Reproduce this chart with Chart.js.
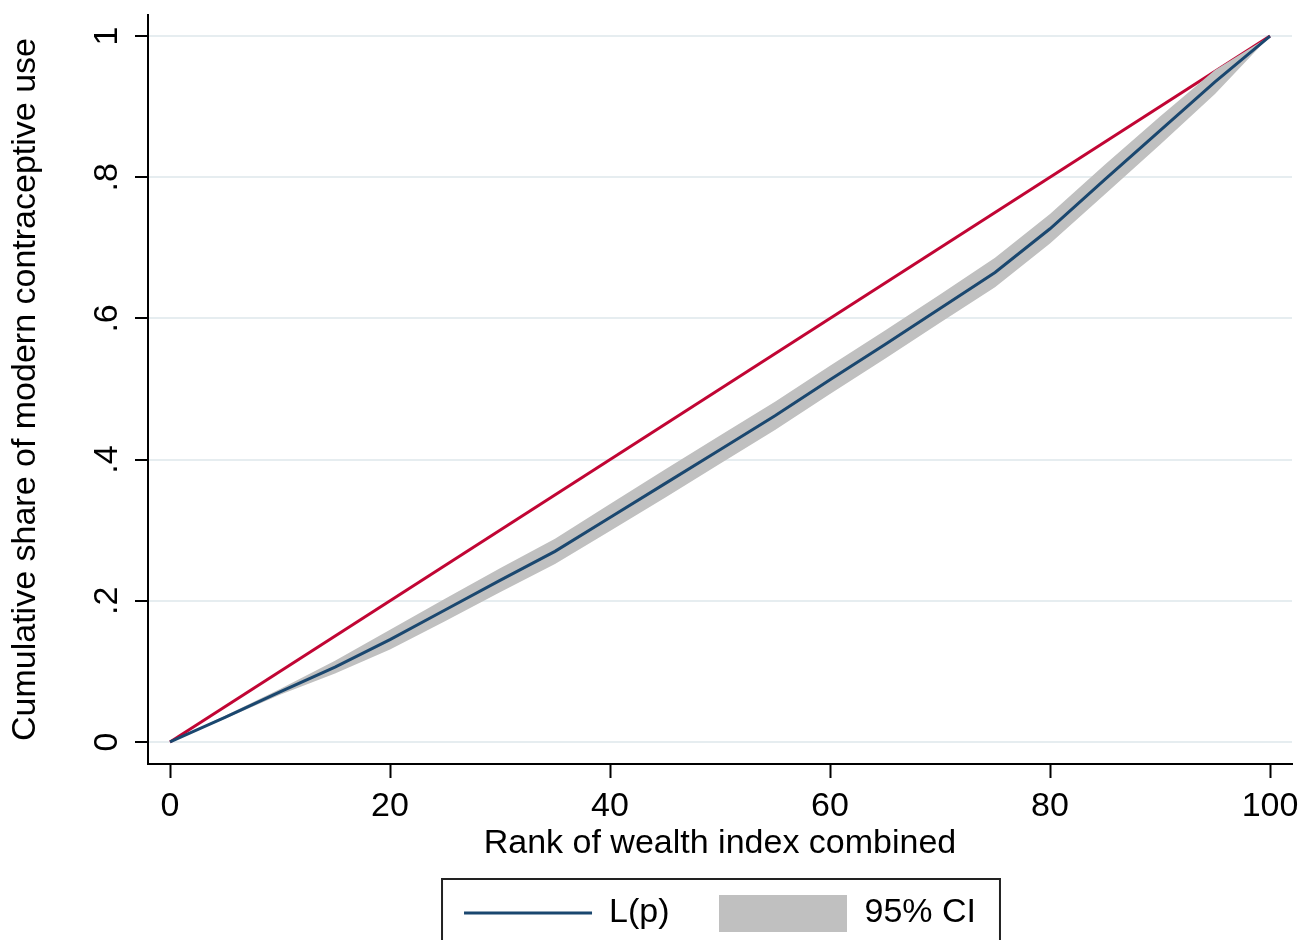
<!DOCTYPE html>
<html>
<head>
<meta charset="utf-8">
<title>Concentration curve</title>
<script src="https://cdn.jsdelivr.net/npm/chart.js@4.4.1/dist/chart.umd.min.js"></script>
<style>
  html, body { margin: 0; padding: 0; background: #fff; }
  #wrap { width: 1311px; height: 940px; position: relative; }
</style>
</head>
<body>
<div id="wrap"><canvas id="chart"></canvas></div>
<script>
// Rank of wealth index (x) and the concentration curve values
const rank   = [0, 5, 10, 15, 20, 25, 30, 35, 40, 45, 50, 55, 60, 65, 70, 75, 80, 85, 90, 95, 100];
const lp     = [0, 0.035, 0.071, 0.106, 0.145, 0.187, 0.229, 0.270, 0.318, 0.366, 0.414, 0.462, 0.513, 0.563, 0.614, 0.665, 0.727, 0.797, 0.866, 0.935, 1];
const ciLow  = [0, 0.033, 0.067, 0.097, 0.131, 0.171, 0.212, 0.252, 0.299, 0.346, 0.394, 0.442, 0.493, 0.543, 0.594, 0.644, 0.706, 0.776, 0.846, 0.918, 1];
const ciHigh = [0, 0.037, 0.075, 0.115, 0.159, 0.203, 0.246, 0.288, 0.337, 0.386, 0.434, 0.482, 0.533, 0.583, 0.634, 0.686, 0.748, 0.818, 0.886, 0.952, 1];

// Line of equality
const eqX = [0, 100];
const eqY = [0, 1];

const xTickValues = [0, 20, 40, 60, 80, 100];
const yTickValues = [0, 0.2, 0.4, 0.6, 0.8, 1];
const yTickLabels = ['0', '.2', '.4', '.6', '.8', '1'];

const navy      = '#1a476f';
const cranberry = '#c10534';
const bandGray  = '#c0c0c0';
const gridColor = '#e6edf0';
const FONT      = 34;

Chart.defaults.font.family = '"Liberation Sans", Arial, Helvetica, sans-serif';
Chart.defaults.font.size = FONT;
Chart.defaults.color = '#000';

const toPts = (xs, ys) => xs.map((x, i) => ({ x: x, y: ys[i] }));

// gray swatch used as the legend symbol of the CI band
const ciSwatch = document.createElement('canvas');
ciSwatch.width = 128;
ciSwatch.height = 37;
(function () {
    const c = ciSwatch.getContext('2d');
    c.fillStyle = bandGray;
    c.fillRect(0, 0, ciSwatch.width, ciSwatch.height);
})();

// Stata draws a frame round the legend
const legendFrame = {
    id: 'legendFrame',
    afterDraw(chart) {
        const lg = chart.legend;
        if (!lg || !lg.legendHitBoxes || !lg.legendHitBoxes.length) return;
        const hb = lg.legendHitBoxes;
        const first = hb[0], last = hb[hb.length - 1];
        const left = first.left - 22;
        const right = last.left + last.width + 24;
        const top = first.top - 17;
        const ctx = chart.ctx;
        ctx.save();
        ctx.strokeStyle = '#222';
        ctx.lineWidth = 2;
        ctx.strokeRect(left, top, right - left, 120);
        ctx.restore();
    }
};

// keep the plot edges where Stata puts them (no extra room for end labels)
const noEdgePadding = s => {
    s.paddingTop = 0;
    s.paddingBottom = 0;
    s.paddingLeft = 0;
    s.paddingRight = 0;
};

new Chart(document.getElementById('chart'), {
    type: 'line',
    data: {
        datasets: [
            {
                label: 'Equality',
                data: toPts(eqX, eqY),
                borderColor: cranberry,
                borderWidth: 3,
                pointRadius: 0,
                fill: false,
                order: 3
            },
            {
                label: 'CI low',
                data: toPts(rank, ciLow),
                borderColor: 'transparent',
                borderWidth: 0,
                pointRadius: 0,
                fill: false,
                order: 2
            },
            {
                label: '95% CI',
                data: toPts(rank, ciHigh),
                borderColor: 'transparent',
                borderWidth: 0,
                backgroundColor: bandGray,
                pointRadius: 0,
                fill: '-1',
                order: 1
            },
            {
                label: 'L(p)',
                data: toPts(rank, lp),
                borderColor: navy,
                borderWidth: 3,
                pointRadius: 0,
                fill: false,
                order: 0
            }
        ]
    },
    options: {
        responsive: true,
        maintainAspectRatio: false,
        devicePixelRatio: 1,
        animation: false,
        layout: { padding: { top: 15, right: 19, bottom: 0, left: 0 } },
        plugins: {
            tooltip: { enabled: false },
            legend: {
                position: 'bottom',
                fullSize: false,
                maxHeight: 95,
                labels: {
                    usePointStyle: true,
                    pointStyleWidth: 128,
                    padding: 50,
                    font: { size: FONT },
                    color: '#000',
                    generateLabels() {
                        return [
                            { text: 'L(p)', pointStyle: 'line', strokeStyle: navy, fillStyle: navy, lineWidth: 3, datasetIndex: 3 },
                            { text: '95% CI', pointStyle: ciSwatch, fillStyle: bandGray, strokeStyle: bandGray, lineWidth: 0, datasetIndex: 2 }
                        ];
                    }
                }
            }
        },
        scales: {
            x: {
                type: 'linear',
                min: -2,
                max: 102,
                afterBuildTicks: s => { s.ticks = xTickValues.map(v => ({ value: v })); },
                afterFit: s => { s.height = 82; noEdgePadding(s); },
                ticks: {
                    padding: 12,
                    font: { size: FONT, lineHeight: 1 },
                    color: '#000',
                    maxRotation: 0,
                    callback: v => String(v)
                },
                grid: {
                    drawOnChartArea: false,
                    tickLength: 14,
                    tickColor: '#000',
                    tickWidth: 2
                },
                border: { display: true, color: '#000', width: 2 },
                title: {
                    display: true,
                    text: 'Rank of wealth index combined',
                    color: '#000',
                    font: { size: FONT, lineHeight: 0.15 },
                    padding: 0
                }
            },
            y: {
                type: 'linear',
                min: -0.0312,
                max: 1.0298,
                afterBuildTicks: s => { s.ticks = yTickValues.map(v => ({ value: v })); },
                afterFit: s => { s.width = 148; noEdgePadding(s); },
                ticks: {
                    padding: 13,
                    minRotation: 90,
                    maxRotation: 90,
                    crossAlign: 'center',
                    font: { size: FONT, lineHeight: 1 },
                    color: '#000',
                    callback: (v, i) => yTickLabels[i]
                },
                grid: {
                    color: gridColor,
                    lineWidth: 2,
                    tickLength: 13,
                    tickColor: '#000',
                    tickWidth: 2
                },
                border: { display: true, color: '#000', width: 2 },
                title: {
                    display: true,
                    text: 'Cumulative share of modern contraceptive use',
                    color: '#000',
                    font: { size: FONT, lineHeight: 1.5 },
                    padding: 0
                }
            }
        }
    },
    plugins: [legendFrame]
});
</script>
</body>
</html>
